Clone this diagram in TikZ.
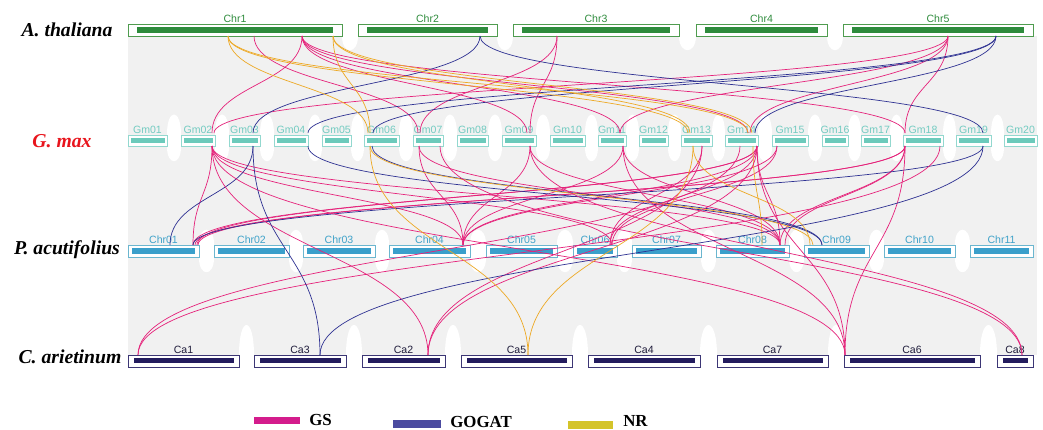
\documentclass[tikz,border=0pt]{standalone}
\usepackage{fontspec}
\setmainfont{Liberation Serif}
\setsansfont{Liberation Sans}
\usetikzlibrary{positioning}
\definecolor{ribbongray}{HTML}{F1F1F1}
\definecolor{athedge}{HTML}{4F9C4F}
\definecolor{athbar}{HTML}{2E8B3C}
\definecolor{gmedge}{HTML}{93D8CF}
\definecolor{gmbar}{HTML}{6CCABB}
\definecolor{gmtext}{HTML}{72CBC1}
\definecolor{paedge}{HTML}{6BB6CF}
\definecolor{pabar}{HTML}{3A9FCB}
\definecolor{patext}{HTML}{3FA2C9}
\definecolor{caedge}{HTML}{3C3675}
\definecolor{cabar}{HTML}{231C5E}
\definecolor{catext}{HTML}{1E1B3A}
\definecolor{gsline}{HTML}{E5227A}
\definecolor{gogatline}{HTML}{2E3192}
\definecolor{nrline}{HTML}{EDA925}
\definecolor{gskey}{HTML}{D41C8C}
\definecolor{gogatkey}{HTML}{4B4BA0}
\definecolor{nrkey}{HTML}{D4C42A}
\definecolor{gmred}{HTML}{E8141C}
% link between two rows: colour, x top, y top, x bottom, y bottom
\newcommand{\synlink}[5]{\draw[link,#1] (#2,#3) .. controls (#2,{(#3+#5)/2}) and (#4,{(#3+#5)/2}) .. (#4,#5);}
% white arch in a gap between two chromosomes
\newcommand{\gaparch}[4]{\fill[white] (#1,#3) .. controls (#1,#4) and (#2,#4) .. (#2,#3) -- cycle;}

\begin{document}
\begin{tikzpicture}[x=0.025cm, y=-0.025cm,
    every node/.style={inner sep=0pt},
    chrlab/.style={font=\sffamily\fontsize{7.5}{8}\selectfont},
    species/.style={font=\bfseries\itshape\fontsize{14}{16}\selectfont},
    keytext/.style={font=\bfseries\fontsize{12}{14}\selectfont, anchor=west},
    link/.style={line width=0.5pt},
]
\useasboundingbox (0,0) rectangle (1043,429);

% Background ribbons
\fill[ribbongray] (128,36) rectangle (1037,355);

% Gaps
\foreach \a/\b in {342/358, 497/513, 679/696, 827/843} {
    \gaparch{\a}{\b}{36}{55}
}
\foreach \a/\b in {167/181, 215/229, 260/274, 308/322, 351/364, 399/413, 443/457, 488/502, 536/550, 585/598,
                   626/639, 668/681, 712/725, 758/772, 808/822, 848/861, 890/903, 943/956, 991/1004} {
    \fill[white] (\a,134) rectangle (\b,147);
    \gaparch{\a}{\b}{134}{108}
    \gaparch{\a}{\b}{147}{166}
}
\foreach \a/\b in {199/214, 289/303, 375/389, 470/486, 557/573, 617/632, 701/716, 789/804, 869/884, 955/970} {
    \fill[white] (\a,244) rectangle (\b,258);
    \gaparch{\a}{\b}{244}{225}
    \gaparch{\a}{\b}{258}{277}
}
\foreach \a/\b in {239/254, 346/362, 445/461, 572/588, 700/717, 828/844, 980/997} {
    \gaparch{\a}{\b}{355}{315}
}

% Species
\node[species] (ath) at (67,30) {A. thaliana};
\node[species, text=gmred] (gmax) at (62,141) {G. max};
\node[species] (pac) at (67,250) {P. acutifolius};
\node[species] (car) at (70,357) {C. arietinum};

% === A. thaliana ===
\foreach \n/\a/\b in {Chr1/128/342, Chr2/358/497, Chr3/513/679, Chr4/696/827, Chr5/843/1033} {
    \draw[athedge, fill=white, line width=0.6pt] (\a,24) rectangle (\b,36);
    \fill[athbar] (\a+9,27.3) rectangle (\b-9,32.7);
    \node[chrlab, text=athbar] (a\n) at ({(\a+\b)/2},19) {\n};
}

% === G. max ===
\foreach \n/\a/\b in {Gm01/128/167, Gm02/181/215, Gm03/229/260, Gm04/274/308, Gm05/322/351,
                      Gm06/364/399, Gm07/413/443, Gm08/457/488, Gm09/502/536, Gm10/550/585,
                      Gm11/598/626, Gm12/639/668, Gm13/681/712, Gm14/725/758, Gm15/772/808,
                      Gm16/822/848, Gm17/861/890, Gm18/903/943, Gm19/956/991, Gm20/1004/1037} {
    \draw[gmedge, fill=white, line width=0.6pt] (\a,135) rectangle (\b,146);
    \fill[gmbar] (\a+2.5,137.7) rectangle (\b-2.5,143.3);
    \node[chrlab, text=gmtext] (g\n) at ({(\a+\b)/2},129.5) {\n};
}

% === P. acutifolius ===
\foreach \n/\a/\b in {Chr01/128/199, Chr02/214/289, Chr03/303/375, Chr04/389/470, Chr05/486/557,
                      Chr06/573/617, Chr07/632/701, Chr08/716/789, Chr09/804/869, Chr10/884/955, Chr11/970/1033} {
    \draw[paedge, fill=white, line width=0.6pt] (\a,245) rectangle (\b,257);
    \fill[pabar] (\a+4,248) rectangle (\b-4,254);
    \node[chrlab, text=patext] (p\n) at ({(\a+\b)/2},239.5) {\n};
}

% === C. arietinum ===
\foreach \n/\a/\b in {Ca1/128/239, Ca3/254/346, Ca2/362/445, Ca5/461/572, Ca4/588/700,
                      Ca7/717/828, Ca6/844/980, Ca8/997/1033} {
    \draw[caedge, fill=white, line width=0.6pt] (\a,355) rectangle (\b,367);
    \fill[cabar] (\a+5.5,358) rectangle (\b-5.5,363);
    \node[chrlab, text=catext] (c\n) at ({(\a+\b)/2},349.5) {\n};
}

% === A. thaliana -- G. max ===
\foreach \p/\q in {254/418, 302/212, 302/527, 302/620, 302/748, 302/905, 557/420, 557/530,
                   948/214, 948/620, 948/750, 948/905} {
    \synlink{gsline}{\p}{36}{\q}{133}
}
\foreach \p/\q in {480/253, 480/983, 996/308, 996/373, 996/755} {
    \synlink{gogatline}{\p}{36}{\q}{133}
}
\foreach \p/\q in {228/368, 228/688, 228/748, 333/370, 333/690, 333/752} {
    \synlink{nrline}{\p}{36}{\q}{133}
}

% === G. max -- P. acutifolius ===
\foreach \p/\q in {212/193, 212/463, 212/612, 212/780, 419/463, 419/780, 530/463, 530/780,
                   623/463, 623/780, 702/610, 757/193, 757/197, 757/463, 757/610, 757/780,
                   777/463, 777/612, 905/195, 905/198, 905/780, 905/785} {
    \synlink{gsline}{\p}{146}{\q}{245}
}
\foreach \p/\q in {253/170, 308/822, 372/822, 983/193} {
    \synlink{gogatline}{\p}{146}{\q}{245}
}
\foreach \p/\q in {370/813, 693/810, 753/762} {
    \synlink{nrline}{\p}{146}{\q}{245}
}

% === G. max -- C. arietinum ===
\foreach \p/\q in {212/428, 212/845, 440/1022, 530/1022, 623/845, 702/428, 740/138,
                   757/428, 757/845, 905/845, 940/138} {
    \synlink{gsline}{\p}{146}{\q}{355}
}
\foreach \p/\q in {253/320, 983/320} {
    \synlink{gogatline}{\p}{146}{\q}{355}
}
\foreach \p/\q in {370/528, 693/528} {
    \synlink{nrline}{\p}{146}{\q}{355}
}

% Legend
\fill[gskey] (254,416.7) rectangle (300,424.3);
\node[keytext] (gs) at (309,420) {GS};
\fill[gogatkey] (393,420) rectangle (441,428);
\node[keytext] (gogat) at (450,421.5) {GOGAT};
\fill[nrkey] (568,421) rectangle (613,429);
\node[keytext] (nr) at (623,420.5) {NR};

\end{tikzpicture}
\end{document}
